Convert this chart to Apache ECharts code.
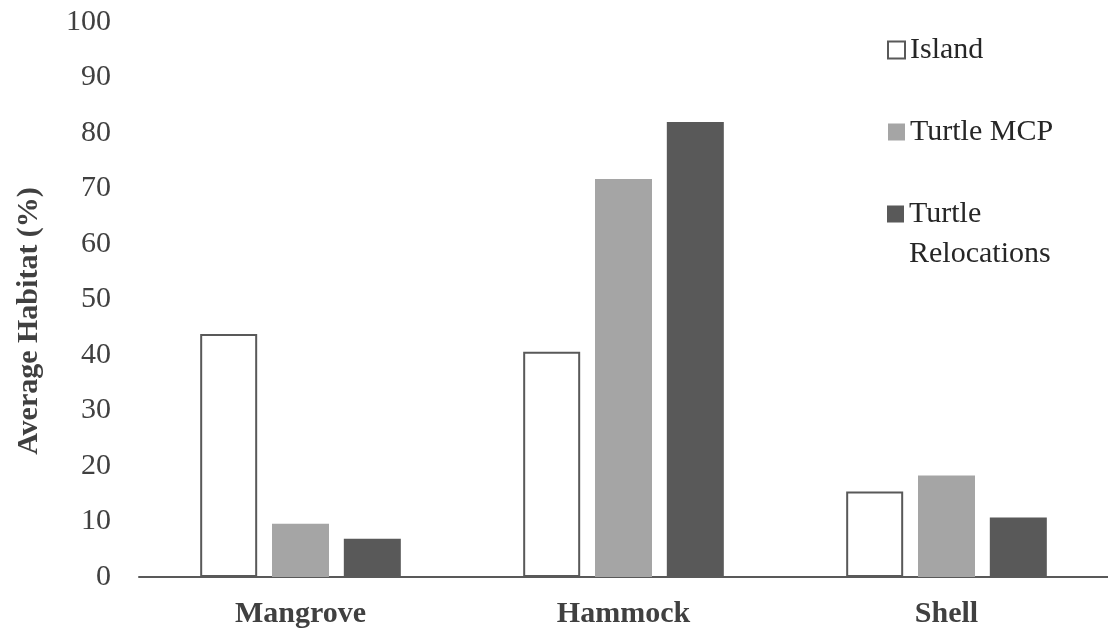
<!DOCTYPE html>
<html>
<head>
<meta charset="utf-8">
<script src="https://cdn.jsdelivr.net/npm/echarts@6/dist/echarts.min.js"></script>
<style>
  html, body { margin: 0; padding: 0; background: #ffffff; }
  #chart { width: 1108px; height: 634px; }
</style>
</head>
<body>
<div id="chart"></div>
<script>
// Habitat categories along the x axis
const categories = ['Mangrove', 'Hammock', 'Shell'];

// Average habitat (%) per category
const islandValues = [43.8, 40.6, 15.4];
const turtleMcpValues = [9.6, 71.7, 18.3];
const turtleRelocationValues = [6.9, 82.0, 10.7];

// Value axis range
const yMin = 0;
const yMax = 100;
const yStep = 10;

const serif = '"Liberation Serif", "DejaVu Serif", serif';
const textColor = '#404040';

// Square swatch sitting at the top of a taller box, so that it lines up
// with the first line of a two-line legend label.
const topSquareIcon = 'path://M0,0L17,0L17,17L0,17ZM0,57L17,57';

const chart = echarts.init(document.getElementById('chart'), null, { renderer: 'canvas' });

chart.setOption({
  backgroundColor: '#ffffff',
  animation: false,
  grid: { left: 139, right: -7, top: 22, bottom: 57 },
  xAxis: {
    type: 'category',
    data: categories,
    axisTick: { show: false },
    axisLine: { lineStyle: { color: '#595959', width: 2 } },
    axisLabel: {
      margin: 22,
      fontFamily: serif,
      fontSize: 30,
      fontWeight: 'bold',
      color: textColor
    }
  },
  yAxis: {
    type: 'value',
    min: yMin,
    max: yMax,
    interval: yStep,
    splitLine: { show: false },
    axisLine: { show: false },
    axisTick: { show: false },
    axisLabel: {
      margin: 28,
      fontFamily: serif,
      fontSize: 30,
      color: textColor
    }
  },
  legend: [
    {
      orient: 'vertical',
      left: 887,
      top: 30,
      padding: 0,
      itemWidth: 17,
      itemHeight: 17,
      itemGap: 42,
      icon: 'rect',
      data: ['Island', 'Turtle MCP'],
      textStyle: { fontFamily: serif, fontSize: 30, color: '#262626', lineHeight: 40 }
    },
    {
      orient: 'vertical',
      left: 887,
      top: 194,
      padding: 0,
      itemWidth: 17,
      itemHeight: 57,
      icon: topSquareIcon,
      data: ['Turtle Relocations'],
      formatter: () => 'Turtle\nRelocations',
      textStyle: { fontFamily: serif, fontSize: 30, color: '#262626', lineHeight: 40 }
    }
  ],
  graphic: [
    {
      type: 'text',
      x: 29,
      y: 321,
      rotation: Math.PI / 2,
      style: {
        text: 'Average Habitat (%)',
        fontFamily: serif,
        fontSize: 30,
        fontWeight: 'bold',
        fill: textColor,
        align: 'center',
        verticalAlign: 'middle'
      }
    }
  ],
  series: [
    {
      name: 'Island',
      type: 'bar',
      data: islandValues,
      barWidth: 57,
      barGap: '26%',
      itemStyle: { color: '#ffffff', borderColor: '#595959', borderWidth: 2 }
    },
    {
      name: 'Turtle MCP',
      type: 'bar',
      data: turtleMcpValues,
      barWidth: 57,
      barGap: '26%',
      itemStyle: { color: '#a5a5a5' }
    },
    {
      name: 'Turtle Relocations',
      type: 'bar',
      data: turtleRelocationValues,
      barWidth: 57,
      barGap: '26%',
      itemStyle: { color: '#595959' }
    }
  ]
});
</script>
</body>
</html>
